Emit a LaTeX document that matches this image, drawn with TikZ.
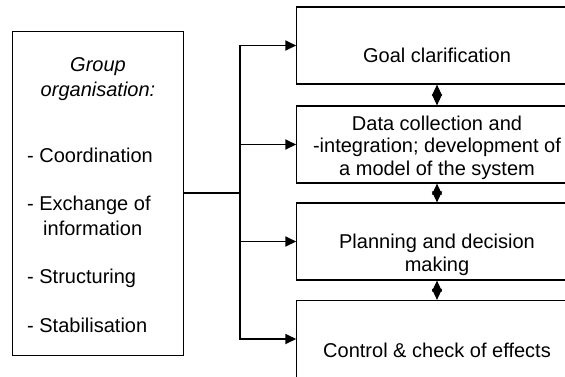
\documentclass[tikz,border=0pt]{standalone}
\usepackage{fontspec}
\setmainfont{Liberation Sans}
\usetikzlibrary{arrows.meta}
\usetikzlibrary{positioning}

\begin{document}
\begin{tikzpicture}[x=1pt,y=-1pt,
  box/.style={draw,line width=1.2pt,minimum width=280.3pt,minimum height=77pt,inner sep=0pt},
  txt/.style={font=\fontsize{20}{22.5}\selectfont,align=center,inner sep=0pt},
  arr/.style={line width=1.8pt,-{Triangle[length=11pt,width=10pt]}},
  dbl/.style={line width=1.2pt,{Triangle[length=11pt,width=10pt]}-{Triangle[length=11pt,width=10pt]}}]
\useasboundingbox (0,0) rectangle (565,376);
\clip (0,0) rectangle (565,376);

% group box
\node[draw,line width=1.2pt,minimum width=170.6pt,minimum height=324.3pt,inner sep=0pt] (grp) at (98,193.3) {};
\node[txt,anchor=north,font=\fontsize{20}{25}\selectfont\itshape] (thead) at (98,57.5) {Group\\organisation:};
\node[txt,align=left,anchor=north west,font=\fontsize{20}{24.5}\selectfont] (tlist) at (27,147.5) {- Coordination\\[24pt]- Exchange of\\\hspace*{16pt}information\\[24pt]- Structuring\\[24pt]- Stabilisation};

% phase boxes
\node[box] (goal) at (437,45.5) {};
\node[box] (data) at (437,144.5) {};
\node[box] (plan) at (437,241.5) {};
\node[box] (ctrl) at (437,339) {};
\node[txt,anchor=base] (tgoal) at (437,62) {Goal clarification};
\node[txt,anchor=north] (tdata) at (437,115.4) {Data collection and\\-integration; development of\\a model of the system};
\node[txt,anchor=north] (tplan) at (437,234.1) {Planning and decision\\making};
\node[txt,anchor=base] (tctrl) at (437,357) {Control \& check of effects};

% connectors
\coordinate (fork) at (240,193.3);
\draw[line width=1.8pt] (grp.east) -- (fork);
\draw[arr] (fork) |- (goal.west);
\draw[arr] (fork) |- (data.west);
\draw[arr] (fork) |- (plan.west);
\draw[arr] (fork) |- (ctrl.west);
\draw[dbl] (goal.south) -- (data.north);
\draw[dbl] (data.south) -- (plan.north);
\draw[dbl] (plan.south) -- (ctrl.north);

\end{tikzpicture}
\end{document}
